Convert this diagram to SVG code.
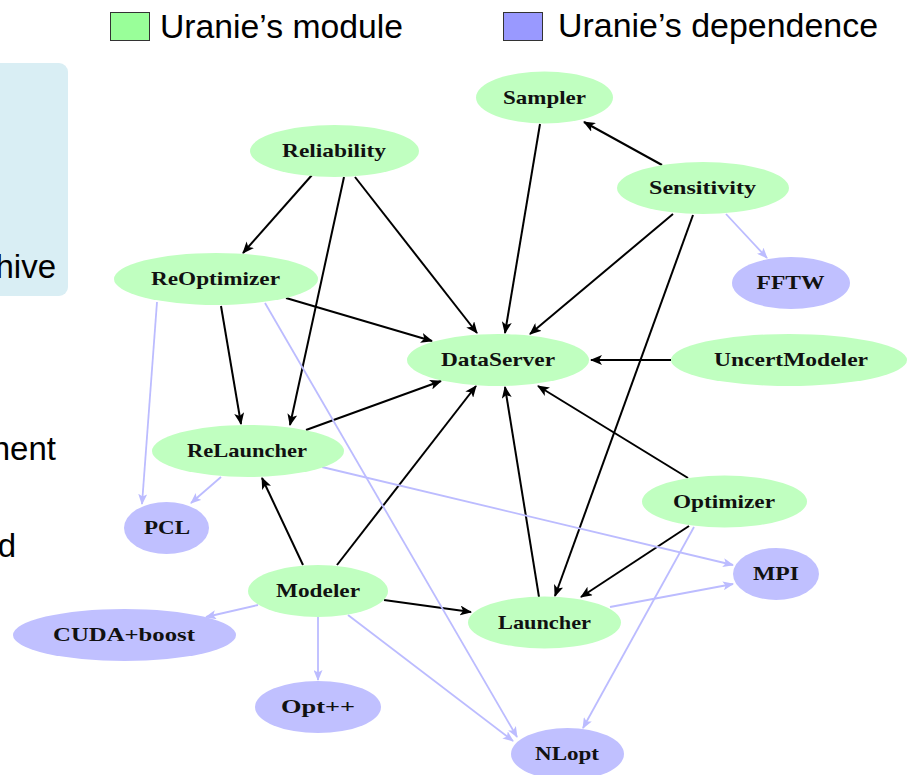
<svg xmlns="http://www.w3.org/2000/svg" width="908" height="775" viewBox="0 0 908 775">
  <style>
    .mod { fill: #c0ffc0; }
    .dep { fill: #c0c0ff; }
    .lbl { font-family: "Liberation Serif", "DejaVu Serif", serif; font-weight: bold; font-size: 19px; fill: #111; text-anchor: middle; }
    .slide { font-family: "Liberation Sans", Arial, sans-serif; font-size: 33px; fill: #000; }
    .dark { stroke: #000; stroke-width: 2; fill: none; marker-end: url(#arrowDark); }
    .light { stroke: #bcbcff; stroke-width: 1.8; fill: none; marker-end: url(#arrowLight); }
  </style>
  <defs>
    <marker id="arrowDark" markerUnits="userSpaceOnUse" viewBox="0 0 12 10" refX="11" refY="5" markerWidth="12" markerHeight="10" orient="auto">
      <path d="M0,0 L12,5 L0,10 L3,5 z" fill="#000"/>
    </marker>
    <marker id="arrowLight" markerUnits="userSpaceOnUse" viewBox="0 0 11 9" refX="10" refY="4.5" markerWidth="11" markerHeight="9" orient="auto">
      <path d="M0,0 L11,4.5 L0,9 L2.5,4.5 z" fill="#bcbcff"/>
    </marker>
  </defs>

  <rect width="908" height="775" fill="#fff"/>

  <!-- slide background fragments on the left -->
  <rect x="-12" y="63" width="80" height="233" rx="9" fill="#d9eef4"/>
  <text class="slide" x="56" y="278" text-anchor="end">hive</text>
  <text class="slide" x="56" y="460" text-anchor="end">nent</text>
  <text class="slide" x="16" y="557" text-anchor="end">d</text>

  <!-- legend -->
  <g id="legend">
    <rect x="110.5" y="12.5" width="39" height="28" fill="#99ff99" stroke="#333" stroke-width="1"/>
    <text class="slide" x="160" y="38" textLength="243" lengthAdjust="spacingAndGlyphs">Uranie’s module</text>
    <rect x="503.5" y="12.5" width="39" height="28" fill="#9999ff" stroke="#333" stroke-width="1"/>
    <text class="slide" x="558" y="37" textLength="320" lengthAdjust="spacingAndGlyphs">Uranie’s dependence</text>
  </g>

  <!-- connectors -->
  <g id="connectors">
    <path class="dark" d="M312,175 L243,253"/>
    <path class="dark" d="M344,177 L290,425"/>
    <path class="dark" d="M355,177 L477,333"/>
    <path class="dark" d="M286,298 L432,341"/>
    <path class="dark" d="M221,306 L241,424"/>
    <path class="dark" d="M306,430 L441,381"/>
    <path class="dark" d="M303,565 L262,478"/>
    <path class="dark" d="M337,565 L476,386"/>
    <path class="dark" d="M384,600 L471,612"/>
    <path class="dark" d="M539,597 L505,387"/>
    <path class="dark" d="M693,215 L555,596"/>
    <path class="dark" d="M673,214 L530,334"/>
    <path class="dark" d="M662,165 L584,122"/>
    <path class="dark" d="M540,124 L505,333"/>
    <path class="dark" d="M671,360 L591,360"/>
    <path class="dark" d="M688,478 L538,386"/>
    <path class="dark" d="M689,526 L581,597"/>

    <path class="light" d="M726,214 L767,258"/>
    <path class="light" d="M157,302 L142,504"/>
    <path class="light" d="M221,477 L191,503"/>
    <path class="light" d="M265,303 L517,737"/>
    <path class="light" d="M322,467 L733,565"/>
    <path class="light" d="M258,605 L206,617"/>
    <path class="light" d="M318,617 L318,680"/>
    <path class="light" d="M348,615 L513,741"/>
    <path class="light" d="M610,607 L733,584"/>
    <path class="light" d="M694,527 L583,728"/>
  </g>

  <!-- modules -->
  <g id="Sampler"><ellipse class="mod" cx="544.5" cy="97.5" rx="68.5" ry="26"/><text class="lbl" x="544.5" y="104" textLength="83" lengthAdjust="spacingAndGlyphs">Sampler</text></g>
  <g id="Reliability"><ellipse class="mod" cx="334.5" cy="151" rx="84.5" ry="26"/><text class="lbl" x="334" y="157" textLength="104" lengthAdjust="spacingAndGlyphs">Reliability</text></g>
  <g id="Sensitivity"><ellipse class="mod" cx="703" cy="188" rx="86" ry="26"/><text class="lbl" x="702.5" y="194" textLength="107" lengthAdjust="spacingAndGlyphs">Sensitivity</text></g>
  <g id="ReOptimizer"><ellipse class="mod" cx="216" cy="279" rx="102" ry="26"/><text class="lbl" x="215.5" y="285" textLength="129" lengthAdjust="spacingAndGlyphs">ReOptimizer</text></g>
  <g id="DataServer"><ellipse class="mod" cx="498" cy="360" rx="91" ry="26"/><text class="lbl" x="498" y="366" textLength="114" lengthAdjust="spacingAndGlyphs">DataServer</text></g>
  <g id="UncertModeler"><ellipse class="mod" cx="789" cy="360" rx="118" ry="26"/><text class="lbl" x="791" y="366" textLength="154" lengthAdjust="spacingAndGlyphs">UncertModeler</text></g>
  <g id="ReLauncher"><ellipse class="mod" cx="248" cy="451" rx="96" ry="26"/><text class="lbl" x="247" y="457" textLength="120" lengthAdjust="spacingAndGlyphs">ReLauncher</text></g>
  <g id="Optimizer"><ellipse class="mod" cx="724.5" cy="501.5" rx="82.5" ry="26"/><text class="lbl" x="724" y="507.5" textLength="102" lengthAdjust="spacingAndGlyphs">Optimizer</text></g>
  <g id="Modeler"><ellipse class="mod" cx="318" cy="591" rx="70" ry="26"/><text class="lbl" x="318" y="597" textLength="84" lengthAdjust="spacingAndGlyphs">Modeler</text></g>
  <g id="Launcher"><ellipse class="mod" cx="544.5" cy="622.5" rx="76.5" ry="26"/><text class="lbl" x="544.5" y="628.5" textLength="93" lengthAdjust="spacingAndGlyphs">Launcher</text></g>

  <!-- dependencies -->
  <g id="FFTW"><ellipse class="dep" cx="791" cy="283" rx="59" ry="26"/><text class="lbl" x="790.5" y="289" textLength="68" lengthAdjust="spacingAndGlyphs">FFTW</text></g>
  <g id="PCL"><ellipse class="dep" cx="166.5" cy="528" rx="42.5" ry="26"/><text class="lbl" x="167" y="534" textLength="46" lengthAdjust="spacingAndGlyphs">PCL</text></g>
  <g id="MPI"><ellipse class="dep" cx="776" cy="574" rx="43" ry="26"/><text class="lbl" x="776" y="580" textLength="46" lengthAdjust="spacingAndGlyphs">MPI</text></g>
  <g id="CUDA_boost"><ellipse class="dep" cx="124.5" cy="635" rx="111.5" ry="26"/><text class="lbl" x="124" y="641" textLength="142" lengthAdjust="spacingAndGlyphs">CUDA+boost</text></g>
  <g id="Optpp"><ellipse class="dep" cx="318" cy="707" rx="63" ry="26"/><text class="lbl" x="318" y="713" textLength="74" lengthAdjust="spacingAndGlyphs">Opt++</text></g>
  <g id="NLopt"><ellipse class="dep" cx="567.5" cy="754" rx="56.5" ry="26"/><text class="lbl" x="567" y="760" textLength="64" lengthAdjust="spacingAndGlyphs">NLopt</text></g>
</svg>
